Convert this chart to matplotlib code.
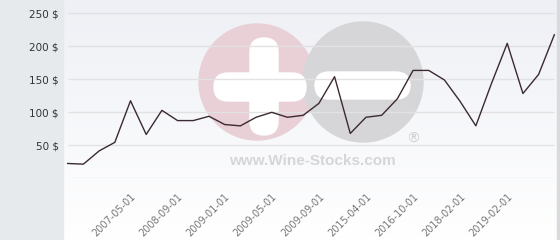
import numpy as np
import matplotlib
matplotlib.use("Agg")
import matplotlib.pyplot as plt
from matplotlib.patches import Circle, FancyBboxPatch, Rectangle

prices = [22, 21, 41, 54, 117, 66, 102.5, 87, 87, 93.5, 81, 79, 92, 99.5,
          92, 95, 113, 153.5, 67.5, 92, 95, 120, 163, 163, 148.5, 116,
          79, 143.5, 204, 128, 157, 217]
tick_idx = [4, 7, 10, 13, 16, 19, 22, 25, 28]
tick_labels = ['2007-05-01', '2008-09-01', '2009-01-01', '2009-05-01',
               '2009-09-01', '2015-04-01', '2016-10-01', '2018-02-01',
               '2019-02-01']
y_ticks = [50, 100, 150, 200, 250]

W, H = 560, 240
fig = plt.figure(figsize=(W/100, H/100), dpi=100)

# background, in pixel coords
bg = fig.add_axes([0, 0, 1, 1])
bg.set_xlim(0, W)
bg.set_ylim(H, 0)
bg.axis('off')
grad = np.linspace(0, 1, 100).reshape(-1, 1)
top = np.array([0xee, 0xf0, 0xf5]) / 255.
bot = np.array([0xff, 0xff, 0xff]) / 255.
img = top[None, None, :] * (1 - grad[:, :, None]) + bot[None, None, :] * grad[:, :, None]
bg.imshow(img, extent=[63, W, H, 0], aspect='auto', zorder=0)
bg.add_patch(Rectangle((0, 0), 63, H, color='#e6eaed', zorder=1))
bg.add_patch(Rectangle((557, 0), 3, H, color='#d8dadd', zorder=1))

# watermark logo (+ / -)
bg.add_patch(Circle((257, 82), 58, color='#e9cfd6', zorder=2))
bg.add_patch(Circle((363, 82), 60, color='#d6d6d8', zorder=3))
rs = 'round,pad=0,rounding_size=14'
bg.add_patch(FancyBboxPatch((250, 38), 28, 97, boxstyle=rs, color='white', zorder=4))
bg.add_patch(FancyBboxPatch((214, 73), 92, 28, boxstyle=rs, color='white', zorder=4))
bg.add_patch(FancyBboxPatch((315, 72), 95, 27, boxstyle=rs, color='white', zorder=4))
bg.text(312, 161, 'www.Wine-Stocks.com', ha='center', va='center',
        fontsize=11, fontweight='bold', family='Liberation Sans',
        color='#d6d6d6', zorder=5)
bg.text(413, 139, '\u00ae', ha='center', va='center', fontsize=10,
        color='#d0d0d0', zorder=5)

# main chart
ax = fig.add_axes([63/W, (H - 178)/H, (557 - 63)/W, 178/H])
ax.patch.set_alpha(0)
x = np.arange(len(prices))
ax.set_xlim(-0.3, 31.17)
ax.set_ylim(0, 269.7)
ax.hlines(y_ticks + [0], 0, 30.95, colors='#e2e2e4', lw=1, zorder=1)
ax.plot(x, prices, color='#3b2a30', lw=1, zorder=3)

ax.set_yticks(y_ticks)
ax.set_yticklabels(['%d $' % v for v in y_ticks], fontsize=7.5, color='#333333')
ax.set_xticks(tick_idx)
ax.set_xticklabels(tick_labels, rotation=45, ha='right', va='top',
                   rotation_mode='anchor', fontsize=7, color='#777777')
ax.tick_params(axis='y', length=0, pad=3)
ax.tick_params(axis='x', length=0, pad=10)
for s in ax.spines.values():
    s.set_visible(False)

fig.savefig('out.png', dpi=100)
